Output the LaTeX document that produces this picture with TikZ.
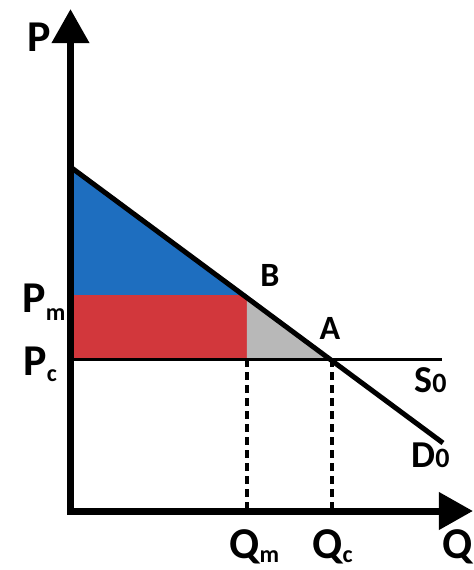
\documentclass[tikz,border=0pt]{standalone}
\usepackage{xcolor}
\usepackage{fontspec}
\setmainfont{Carlito}
\usepackage{tikz}
\usetikzlibrary{arrows.meta}

\definecolor{csblue}{HTML}{1E6EBF}
\definecolor{psred}{HTML}{D2373C}
\definecolor{dwlgray}{HTML}{B8B8B8}

\newcommand{\withsub}[3][-4pt]{#2\raisebox{#1}{\fontsize{12}{12}\selectfont #3}}

\begin{document}
\begin{tikzpicture}[
  x=0.5pt, y=-0.5pt,
  axis/.style={line width=3.5pt, line join=miter,
               {Triangle[length=17pt,width=18pt]}-{Triangle[length=17pt,width=18pt]}},
  demand/.style={line width=2.5pt},
  supply/.style={line width=1.5pt},
  guide/.style={line width=1.6pt, dash pattern=on 4pt off 2.5pt},
  lbl/.style={font=\bfseries\fontsize{22}{22}\selectfont, inner sep=0pt},
  pt/.style={font=\bfseries\fontsize{17}{17}\selectfont, inner sep=0pt},
  curve/.style={font=\bfseries\fontsize{19}{19}\selectfont, inner sep=0pt, anchor=base west}
]
\useasboundingbox (0,0) rectangle (474,570);

% points of the market
\coordinate (O) at (70.5,511);
\coordinate (ytip) at (70.5,9);
\coordinate (xtip) at (473,511);
\coordinate (Dtop) at (70.5,167);
\coordinate (B) at (247,295);
\coordinate (A) at (332,359);
\coordinate (Dend) at (443,443);
\coordinate (Pm) at (70.5,295);
\coordinate (Pc) at (70.5,359);
\coordinate (Bfoot) at (247,359);
\coordinate (Send) at (442,359);
\coordinate (Qm) at (247,511);
\coordinate (Qc) at (332,511);

% surplus areas
\fill[csblue] (Dtop) -- (B) -- (Pm) -- cycle;
\fill[psred] (Pm) rectangle (Bfoot);
\fill[dwlgray] (B) -- (A) -- (Bfoot) -- cycle;

% curves
\draw[supply] (Pc) -- (Send);
\draw[guide] (Bfoot) -- (Qm);
\draw[guide] (A) -- (Qc);
\draw[demand] (Dtop) -- (Dend);
\draw[axis] (ytip) -- (O) -- (xtip);

% labels
\node[lbl] (plbl) at (39,37) {P};
\node[lbl, anchor=base west] (pmlbl) at (22,312) {\withsub{P}{m}};
\node[lbl, anchor=base west] (pclbl) at (23,375) {\withsub[-3pt]{P}{c}};
\node[pt] (blbl) at (270,275) {B};
\node[pt] (albl) at (330,328) {A};
\node[curve] (slbl) at (414,392) {S\fontsize{14}{14}\selectfont 0};
\node[curve] (dlbl) at (411,467) {D\fontsize{14}{14}\selectfont 0};
\node[lbl, anchor=base west] (qmlbl) at (229,558) {\withsub[-2pt]{Q}{m}};
\node[lbl, anchor=base west] (qclbl) at (312,558) {\withsub[-2pt]{Q}{c}};
\node[lbl, anchor=base west] (qlbl) at (442,558) {Q};
\end{tikzpicture}
\end{document}
